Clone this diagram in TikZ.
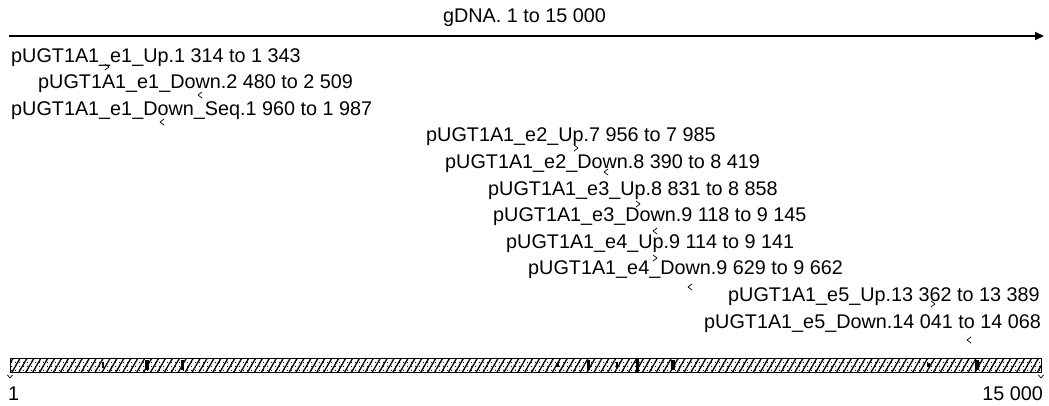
\documentclass[tikz,border=0pt]{standalone}
\usepackage{fontspec}
\setmainfont{Liberation Sans}
\usetikzlibrary{patterns.meta,arrows.meta}
\begin{document}
\begin{tikzpicture}[x=1pt,y=-1pt,
  lbl/.style={anchor=base west, inner sep=0pt, font=\fontsize{19.8}{19.8}\selectfont},
  mk/.style={line width=0.7pt, line cap=round, line join=round},
  blk/.style={fill=black, draw=none}]
\useasboundingbox (0,0) rectangle (1049,405);
% top axis
\node[inner sep=0pt, font=\fontsize{19.8}{19.8}\selectfont] (gdna) at (524.5,18) {gDNA. 1 to 15 000};
\coordinate (axs) at (9,36);
\coordinate (axe) at (1044,36);
\draw[line width=2pt, -{Triangle[length=9pt,width=8pt]}] (axs) -- (axe);
% labels
\node[lbl] (p1)  at (11,62)    {pUGT1A1\_e1\_Up.1 314 to 1 343};
\node[lbl] (p2)  at (38,88.6)  {pUGT1A1\_e1\_Down.2 480 to 2 509};
\node[lbl] (p3)  at (11,115.2) {pUGT1A1\_e1\_Down\_Seq.1 960 to 1 987};
\node[lbl] (p4)  at (426,141.8) {pUGT1A1\_e2\_Up.7 956 to 7 985};
\node[lbl] (p5)  at (445,168.4) {pUGT1A1\_e2\_Down.8 390 to 8 419};
\node[lbl] (p6)  at (488,195)   {pUGT1A1\_e3\_Up.8 831 to 8 858};
\node[lbl] (p7)  at (493,221.6) {pUGT1A1\_e3\_Down.9 118 to 9 145};
\node[lbl] (p8)  at (506,248.2) {pUGT1A1\_e4\_Up.9 114 to 9 141};
\node[lbl] (p9)  at (528,274.8) {pUGT1A1\_e4\_Down.9 629 to 9 662};
\node[lbl] (p10) at (728,301.4) {pUGT1A1\_e5\_Up.13 362 to 13 389};
\node[lbl] (p11) at (704,328)   {pUGT1A1\_e5\_Down.14 041 to 14 068};
% direction marks
\foreach \x/\y in {107/67, 576/148, 638/204, 655/258, 933/304}{
  \draw[mk] (\x-2,\y-3) -- (\x+2,\y) -- (\x-2,\y+3);}
\foreach \x/\y in {200/95, 162/122, 606/172, 655/231, 690/287, 969/340}{
  \draw[mk] (\x+2,\y-3) -- (\x-2,\y) -- (\x+2,\y+3);}
% bar
\coordinate (bl) at (10,358);
\coordinate (br) at (1041,372);
\fill[white] (bl) rectangle (br);
\fill[pattern={Lines[angle=60,distance=6pt,line width=1.3pt]}] (bl) rectangle (br);
\fill[pattern={Dots[radius=0.7pt,distance=4pt]}] (bl) rectangle (br);
\fill[blk] (102,362) rectangle (104,368);
\fill[blk] (145,360) rectangle (149,370);
\fill[blk] (181,360) rectangle (184,370);
\fill[blk] (556,363) rectangle (559,367);
\fill[blk] (587,360) rectangle (590,370);
\fill[blk] (616,362) rectangle (618,368);
\fill[blk] (636,358) rectangle (639,372);
\fill[blk] (671,360) rectangle (675,370);
\fill[blk] (927,363) rectangle (930,367);
\fill[blk] (975,360) rectangle (979,370);
\draw[line width=1pt] (bl) rectangle (br);
% ends
\draw[mk] (7.5,375) -- (10,378) -- (12.5,375);
\draw[mk] (1038.5,375) -- (1041,378) -- (1043.5,375);
\node[anchor=west, inner sep=0pt, font=\fontsize{19.8}{19.8}\selectfont] (one) at (8,394) {1};
\node[anchor=east, inner sep=0pt, font=\fontsize{19.8}{19.8}\selectfont] (end) at (1043,394) {15 000};
\end{tikzpicture}
\end{document}
